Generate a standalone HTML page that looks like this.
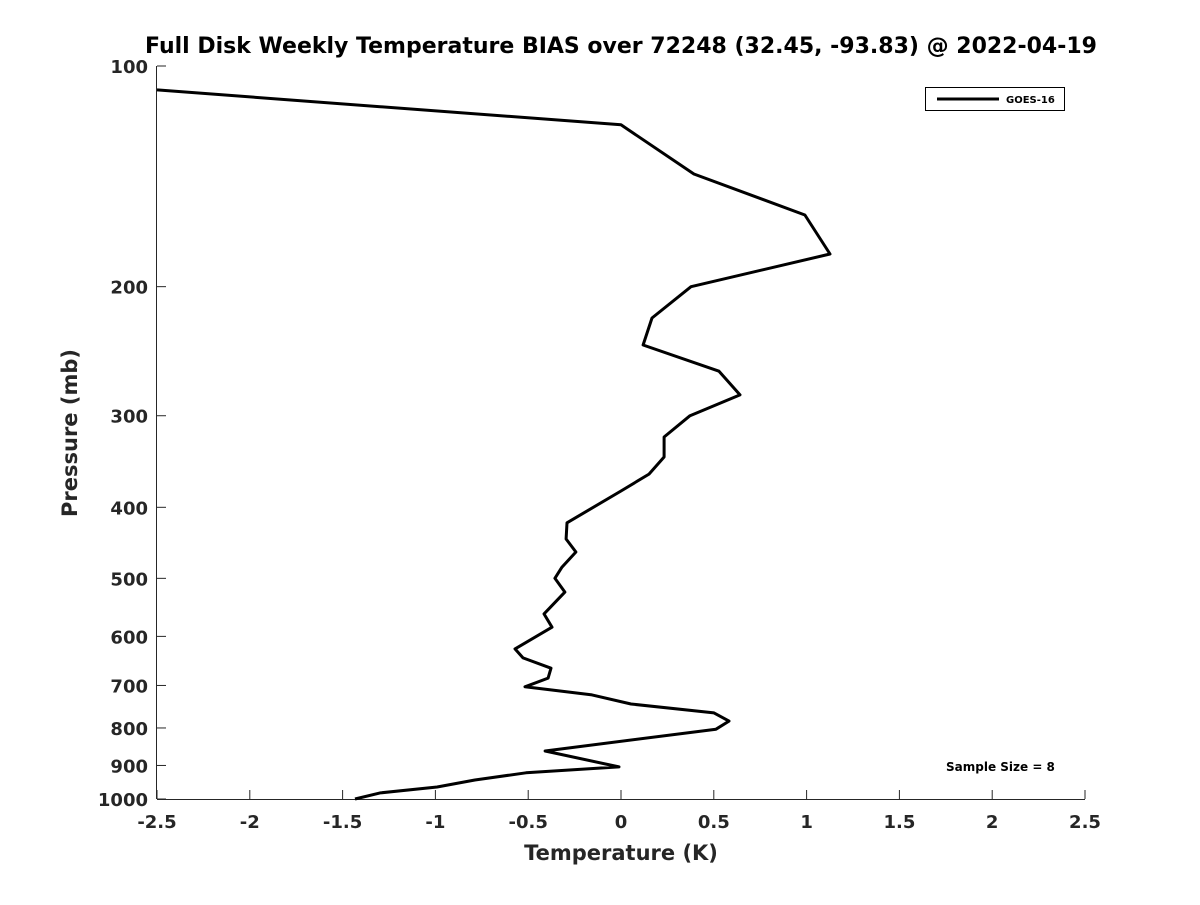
<!DOCTYPE html>
<html><head><meta charset="utf-8"><style>
html,body{margin:0;padding:0;background:#fff;}
svg text{font-family:"DejaVu Sans","Liberation Sans",sans-serif;font-weight:bold;}
</style></head><body>
<svg id="chart" width="1200" height="900" xmlns="http://www.w3.org/2000/svg">
<rect width="1200" height="900" fill="#fff"/>
<text x="621" y="53" text-anchor="middle" font-size="22" fill="#000">Full Disk Weekly Temperature BIAS over 72248 (32.45, -93.83) @ 2022-04-19</text>
<g id="axes"></g>
<path id="series" fill="none" stroke="#000" stroke-width="3" stroke-linejoin="round"/>
<g>
<rect x="925.5" y="87.5" width="139" height="23" fill="#fff" stroke="#000" stroke-width="1"/>
<line x1="937" y1="99" x2="999" y2="99" stroke="#000" stroke-width="3"/>
<text x="1006" y="103" font-size="10" fill="#000">GOES-16</text>
</g>
<text x="946" y="771" font-size="12" fill="#000">Sample Size = 8</text>
<text x="621" y="860" text-anchor="middle" font-size="21" fill="#262626">Temperature (K)</text>
<text transform="translate(77,433) rotate(-90)" text-anchor="middle" font-size="21" fill="#262626">Pressure (mb)</text>
</svg>
<script>
const temps=[-2.5,0,0.393,0.991,1.126,0.377,0.167,0.119,0.528,0.641,0.372,0.232,0.232,0.151,0,-0.291,-0.296,-0.243,-0.318,-0.356,-0.302,-0.415,-0.372,-0.571,-0.528,-0.377,-0.393,-0.517,-0.156,0.054,0.501,0.582,0.512,-0.409,-0.011,-0.512,-0.787,-0.991,-1.298,-1.433];
const pressures=[107.8,120.3,140.4,159.7,180.5,200,220.7,240.2,260.8,281,300,320.7,341.5,360.4,380,420,441.8,460.3,482.6,500,522,559,583,624,642,663,684,703,721,742,763,783,803,860,904,921,942,963,981,1000];
const xTicks=[-2.5,-2,-1.5,-1,-0.5,0,0.5,1,1.5,2,2.5];
const xTickLabels=["-2.5","-2","-1.5","-1","-0.5","0","0.5","1","1.5","2","2.5"];
const yTicks=[100,200,300,400,500,600,700,800,900,1000];
const yTickLabels=["100","200","300","400","500","600","700","800","900","1000"];
const L=157,R=1085,T=66,B=799;
const xs=v=>L+(v+2.5)/5*(R-L);
const ys=p=>T+(Math.log10(p)-2)*(B-T);
const NS="http://www.w3.org/2000/svg";
const ax=document.getElementById('axes');
function mk(t,a){const e=document.createElementNS(NS,t);for(const k in a)e.setAttribute(k,a[k]);ax.appendChild(e);return e;}
const xl=mk('line',{x1:L,y1:B+0.5,x2:R,y2:B+0.5,stroke:'#262626','stroke-width':1});


const yl=mk('line',{x1:L-0.5,y1:T,x2:L-0.5,y2:B,stroke:'#262626','stroke-width':1});


xTicks.forEach((v,i)=>{const x=xs(v);
mk('line',{x1:x,y1:B,x2:x,y2:B-9,stroke:'#262626'});
const t=mk('text',{x:x,y:B+29,'text-anchor':'middle','font-size':18,fill:'#262626'});


t.textContent=xTickLabels[i];});
yTicks.forEach((p,i)=>{const y=ys(p);
mk('line',{x1:L,y1:y,x2:L+9,y2:y,stroke:'#262626'});
const t=mk('text',{x:L-9,y:y+7,'text-anchor':'end','font-size':18,fill:'#262626'});


t.textContent=yTickLabels[i];});
document.getElementById('series').setAttribute('d',temps.map((v,i)=>(i?'L':'M')+xs(v).toFixed(1)+','+ys(pressures[i]).toFixed(1)).join(' '));
</script>
</body></html>
